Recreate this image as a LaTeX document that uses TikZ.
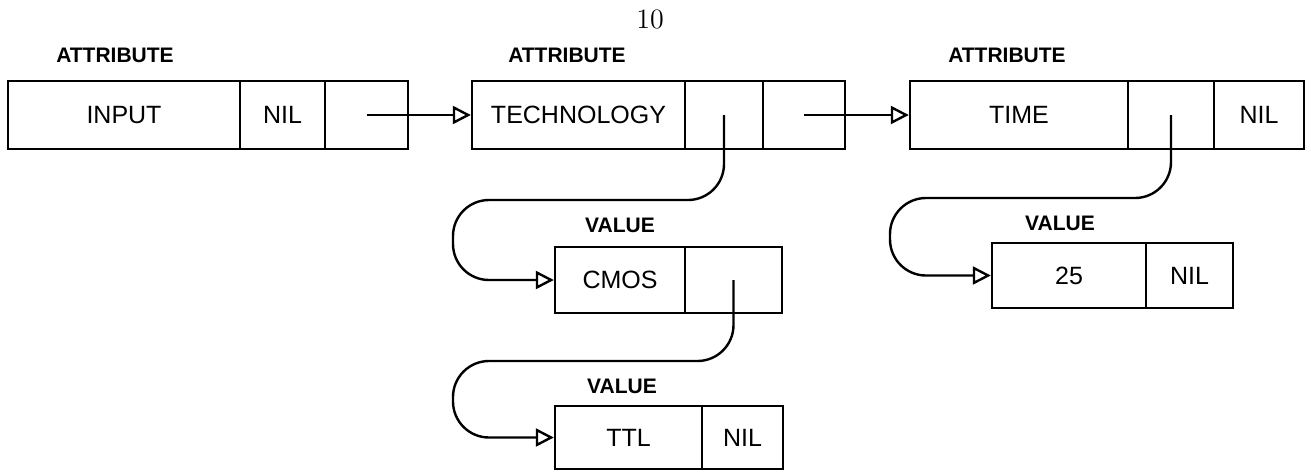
\documentclass[tikz,border=0pt]{standalone}
\usepackage{fontspec}
\newfontfamily\plotfont{Liberation Sans}
\usetikzlibrary{arrows.meta}

% one cell of a record: name, left, right, top, bottom, text
\newcommand\cellbox[6]{%
  \node[cell, minimum width={(#3-#2)*0.5pt}, minimum height={(#5-#4)*0.5pt}]
    (#1) at ({(#2+#3)/2},{(#4+#5)/2}) {#6};}

\tikzset{
  cell/.style={draw, line width=1.2pt, inner sep=0pt, font=\plotfont\fontsize{12.5}{14}\selectfont},
  tag/.style={font=\plotfont\bfseries\fontsize{10.5}{12}\selectfont},
  link/.style={line width=1.2pt, -{Triangle[open,length=9pt,width=9pt,line width=1.2pt]}},
}

\begin{document}
\begin{tikzpicture}[x=0.5pt, y=-0.5pt]
\useasboundingbox (0,0) rectangle (1311,472);

% page number
\node[font=\fontsize{14}{16}\selectfont] (page) at (650,19) {10};

% attribute records
\node[tag] (lab-input) at (115,55) {ATTRIBUTE};
\cellbox{in-name}{8}{240}{81}{149}{INPUT}
\cellbox{in-nil}{240}{325}{81}{149}{NIL}
\cellbox{in-ptr}{325}{408}{81}{149}{}

\node[tag] (lab-tech) at (567,55) {ATTRIBUTE};
\cellbox{tech-name}{472}{685}{81}{149}{TECHNOLOGY}
\cellbox{tech-val}{685}{763}{81}{149}{}
\cellbox{tech-ptr}{763}{845}{81}{149}{}

\node[tag] (lab-time) at (1007,55) {ATTRIBUTE};
\cellbox{time-name}{910}{1128}{81}{149}{TIME}
\cellbox{time-val}{1128}{1214}{81}{149}{}
\cellbox{time-nil}{1214}{1304}{81}{149}{NIL}

% value records
\node[tag] (lab-cmos) at (620,225) {VALUE};
\cellbox{cmos-name}{555}{685}{247}{313}{CMOS}
\cellbox{cmos-ptr}{685}{782}{247}{313}{}

\node[tag] (lab-25) at (1060,223) {VALUE};
\cellbox{v25-name}{992}{1146}{243}{308}{25}
\cellbox{v25-nil}{1146}{1233}{243}{308}{NIL}

\node[tag] (lab-ttl) at (622,386) {VALUE};
\cellbox{ttl-name}{555}{702}{406}{469}{TTL}
\cellbox{ttl-nil}{702}{783}{406}{469}{NIL}

% next-attribute pointers
\draw[link] (in-ptr.center) -- (in-ptr.center -| tech-name.west);
\draw[link] (tech-ptr.center) -- (tech-ptr.center -| time-name.west);

% value pointers
\coordinate (loop1) at (453,200);
\coordinate (loop2) at (890,198);
\coordinate (loop3) at (453,361);
\draw[link, rounded corners=18pt] (tech-val.center) |- (loop1) |- (cmos-name.west);
\draw[link, rounded corners=18pt] (time-val.center) |- (loop2) |- (v25-name.west);
\draw[link, rounded corners=18pt] (cmos-ptr.center) |- (loop3) |- (ttl-name.west);
\end{tikzpicture}
\end{document}
